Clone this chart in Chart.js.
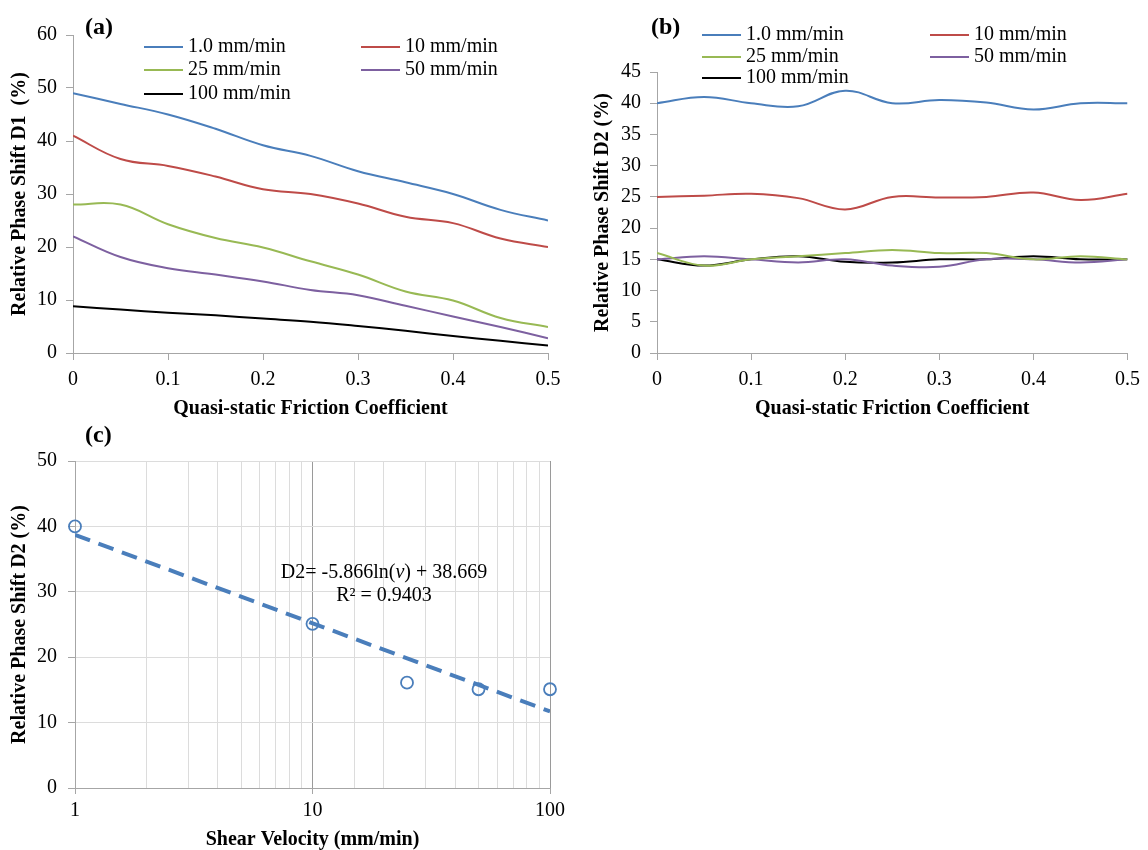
<!DOCTYPE html>
<html><head><meta charset="utf-8">
<script src="https://cdn.jsdelivr.net/npm/chart.js@4.4.1/dist/chart.umd.min.js"></script>
<style>
html,body{margin:0;padding:0;background:#fff;width:1148px;height:850px;overflow:hidden;font-family:'Liberation Serif',serif;}
body{position:relative;}
canvas{position:absolute;}
.lbl{position:absolute;font-weight:bold;font-size:24px;line-height:24px;color:#000;}
.eq{position:absolute;font-size:20px;line-height:23px;text-align:center;color:#000;white-space:nowrap;}
</style></head><body>
<canvas id="ca" width="570" height="430" style="left:0;top:0;width:570px;height:430px"></canvas>
<canvas id="cb" width="578" height="430" style="left:570px;top:0;width:578px;height:430px"></canvas>
<canvas id="cc" width="570" height="432" style="left:0;top:420px;width:570px;height:432px"></canvas>
<div class="lbl" style="left:85px;top:14px">(a)</div>
<div class="lbl" style="left:651px;top:14px">(b)</div>
<div class="lbl" style="left:85px;top:422px">(c)</div>
<div class="eq" id="eq" style="left:234px;top:560px;width:300px"></div>
<script>
// ---------- data ----------
const frictionCoef = [0, 0.05, 0.1, 0.15, 0.2, 0.25, 0.3, 0.35, 0.4, 0.45, 0.5];
const speedLabels = ['1.0 mm/min', '10 mm/min', '25 mm/min', '50 mm/min', '100 mm/min'];

// (a) Relative phase shift D1 (%)
const d1_v1   = [49, 47, 45, 42.3, 39.2, 37.2, 34.3, 32.2, 30, 27, 25];
const d1_v10  = [41, 36.6, 35.3, 33.3, 30.9, 30, 28.2, 25.7, 24.5, 21.6, 20];
const d1_v25  = [28, 28, 24.3, 21.7, 19.9, 17.3, 14.8, 11.6, 9.9, 6.6, 4.9];
const d1_v50  = [22, 18.1, 16, 14.8, 13.5, 11.9, 10.9, 8.9, 6.9, 4.9, 2.8];
const d1_v100 = [8.8, 8.2, 7.6, 7.1, 6.5, 5.9, 5.1, 4.2, 3.2, 2.3, 1.4];

// (b) Relative phase shift D2 (%)
const d2_v1   = [40, 41, 40, 39.5, 42, 40, 40.5, 40.1, 39, 40, 40];
const d2_v10  = [25, 25.2, 25.5, 24.8, 23, 25, 24.9, 25, 25.7, 24.5, 25.5];
const d2_v25  = [16, 14, 15, 15.5, 16, 16.5, 16, 16, 15, 15.5, 15];
const d2_v50  = [15, 15.5, 15, 14.5, 15, 14, 13.8, 15, 15, 14.5, 15];
const d2_v100 = [15, 14, 15, 15.5, 14.6, 14.5, 15, 15, 15.5, 15, 15];

// (c) D2 vs shear velocity
const shearVelocity = [1, 10, 25, 50, 100];
const d2Measured = [40, 25.1, 16.1, 15.1, 15.1];
const trendVelocity = [1, 100];
const trendD2 = [38.7, 11.7];
const logTickLabels = [1, 10, 100];

// ---------- styles ----------
const seriesColors = ['#4a7ebb', '#be4b48', '#98b954', '#7d60a0', '#000000'];
const FONT = 'Liberation Serif';
const AXIS = '#a6a6a6';
const TICKSIZE = 20;
const TITLESIZE = 20;

const insideLegend = {
  id: 'insideLegend',
  afterDraw(chart, args, opts) {
    if (!opts || !opts.cols) return;
    const ctx = chart.ctx;
    ctx.save();
    ctx.font = opts.font;
    ctx.textBaseline = 'middle';
    ctx.textAlign = 'left';
    ctx.fillStyle = '#000';
    chart.data.datasets.forEach((ds, i) => {
      const col = i % 2, row = Math.floor(i / 2);
      const x0 = opts.cols[col], y = opts.rows[row];
      ctx.strokeStyle = ds.borderColor;
      ctx.lineWidth = 2;
      ctx.beginPath(); ctx.moveTo(x0, y); ctx.lineTo(x0 + opts.lineLen, y); ctx.stroke();
      ctx.fillText(ds.label, x0 + opts.lineLen + opts.gap, y);
    });
    ctx.restore();
  }
};

function lineSets(arrs) {
  return arrs.map((a, i) => ({
    label: speedLabels[i],
    data: frictionCoef.map((x, j) => ({x: x, y: a[j]})),
    borderColor: seriesColors[i],
    backgroundColor: seriesColors[i],
    borderWidth: 2,
    pointRadius: 0,
    tension: 0.4,
    fill: false
  }));
}

function frictionChart(id, sets, yMax, yStep, yTitle, padTop, padRight, yWidth, yTitlePad, legendOpts) {
  return new Chart(document.getElementById(id), {
    type: 'line',
    data: {datasets: lineSets(sets)},
    plugins: [insideLegend],
    options: {
      responsive: false, animation: false, devicePixelRatio: 1,
      layout: {padding: {top: padTop, right: padRight, left: 0, bottom: 0}},
      plugins: {legend: {display: false}, tooltip: {enabled: false}, insideLegend: legendOpts},
      scales: {
        x: {
          type: 'linear', min: 0, max: 0.5,
          ticks: {stepSize: 0.1, color: '#000', font: {family: FONT, size: TICKSIZE}, padding: 8, maxRotation: 0, autoSkip: false,
                  callback: v => String(+v.toFixed(1))},
          grid: {drawOnChartArea: false, drawTicks: true, tickLength: 7, color: AXIS},
          border: {color: AXIS, width: 1},
          title: {display: true, text: 'Quasi-static Friction Coefficient', color: '#000',
                  font: {family: FONT, size: TITLESIZE, weight: 'bold'}, padding: {top: 0, bottom: 9}},
          afterFit: s => { s.height = 77; }
        },
        y: {
          min: 0, max: yMax,
          ticks: {stepSize: yStep, color: '#000', font: {family: FONT, size: TICKSIZE}, padding: 9},
          grid: {drawOnChartArea: false, drawTicks: true, tickLength: 7, color: AXIS},
          border: {color: AXIS, width: 1},
          title: {display: true, text: yTitle, color: '#000',
                  font: {family: FONT, size: TITLESIZE, weight: 'bold'}, padding: {top: yTitlePad, bottom: 0}},
          afterFit: s => { s.width = yWidth; }
        }
      }
    }
  });
}

frictionChart('ca', [d1_v1, d1_v10, d1_v25, d1_v50, d1_v100], 60, 10, 'Relative Phase Shift D1  (%)',
  35, 22, 73, 8,
  {cols: [144, 361], rows: [47, 70, 94], lineLen: 39, gap: 5, font: '20px "Liberation Serif"'});

frictionChart('cb', [d2_v1, d2_v10, d2_v25, d2_v50, d2_v100], 45, 5, 'Relative Phase Shift D2 (%)',
  72, 15, 87, 21,
  {cols: [132, 360], rows: [35, 57, 78], lineLen: 39, gap: 5, font: '20px "Liberation Serif"'});

// (c)
new Chart(document.getElementById('cc'), {
  type: 'scatter',
  data: {
    datasets: [
      {
        label: 'Measured',
        data: shearVelocity.map((v, i) => ({x: v, y: d2Measured[i]})),
        borderColor: '#4a7ebb', backgroundColor: 'rgba(255,255,255,0)',
        pointRadius: 6, pointBorderWidth: 1.8, pointStyle: 'circle', clip: false, order: 0
      },
      {
        type: 'line', label: 'Trend',
        data: trendVelocity.map((v, i) => ({x: v, y: trendD2[i]})),
        borderColor: '#4a7ebb', borderWidth: 4, borderDash: [16, 9], pointRadius: 0,
        showLine: true, fill: false, tension: 0, order: 1
      }
    ]
  },
  options: {
    responsive: false, animation: false, devicePixelRatio: 1,
    layout: {padding: {top: 41, right: 17, left: 0, bottom: 0}},
    plugins: {legend: {display: false}, tooltip: {enabled: false}},
    scales: {
      x: {
        type: 'logarithmic', min: 1, max: 100,
        ticks: {color: '#000', font: {family: FONT, size: TICKSIZE}, padding: 5, maxRotation: 0, autoSkip: false,
                callback: v => logTickLabels.includes(v) ? String(v) : ''},
        grid: {drawOnChartArea: true, drawTicks: true, tickLength: 6,
               color: c => (c.tick && (c.tick.value === 10 || c.tick.value === 100)) ? '#9a9a9a' : '#dcdcdc',
               tickColor: c => (c.tick && logTickLabels.includes(c.tick.value)) ? AXIS : 'rgba(0,0,0,0)'},
        border: {color: AXIS, width: 1},
        title: {display: true, text: 'Shear Velocity (mm/min)', color: '#000',
                font: {family: FONT, size: TITLESIZE, weight: 'bold'}, padding: {top: 0, bottom: 0}},
        afterFit: s => { s.height = 64; }
      },
      y: {
        min: 0, max: 50,
        ticks: {stepSize: 10, color: '#000', font: {family: FONT, size: TICKSIZE}, padding: 11},
        grid: {drawOnChartArea: true, drawTicks: true, tickLength: 7, color: '#dcdcdc', tickColor: AXIS},
        border: {color: AXIS, width: 1},
        title: {display: true, text: 'Relative Phase Shift D2 (%)', color: '#000',
                font: {family: FONT, size: TITLESIZE, weight: 'bold'}, padding: {top: 8, bottom: 0}},
        afterFit: s => { s.width = 75; }
      }
    }
  }
});

document.getElementById('eq').innerHTML = 'D2= -5.866ln(<i>v</i>) + 38.669<br>R² = 0.9403';
</script>
</body></html>
